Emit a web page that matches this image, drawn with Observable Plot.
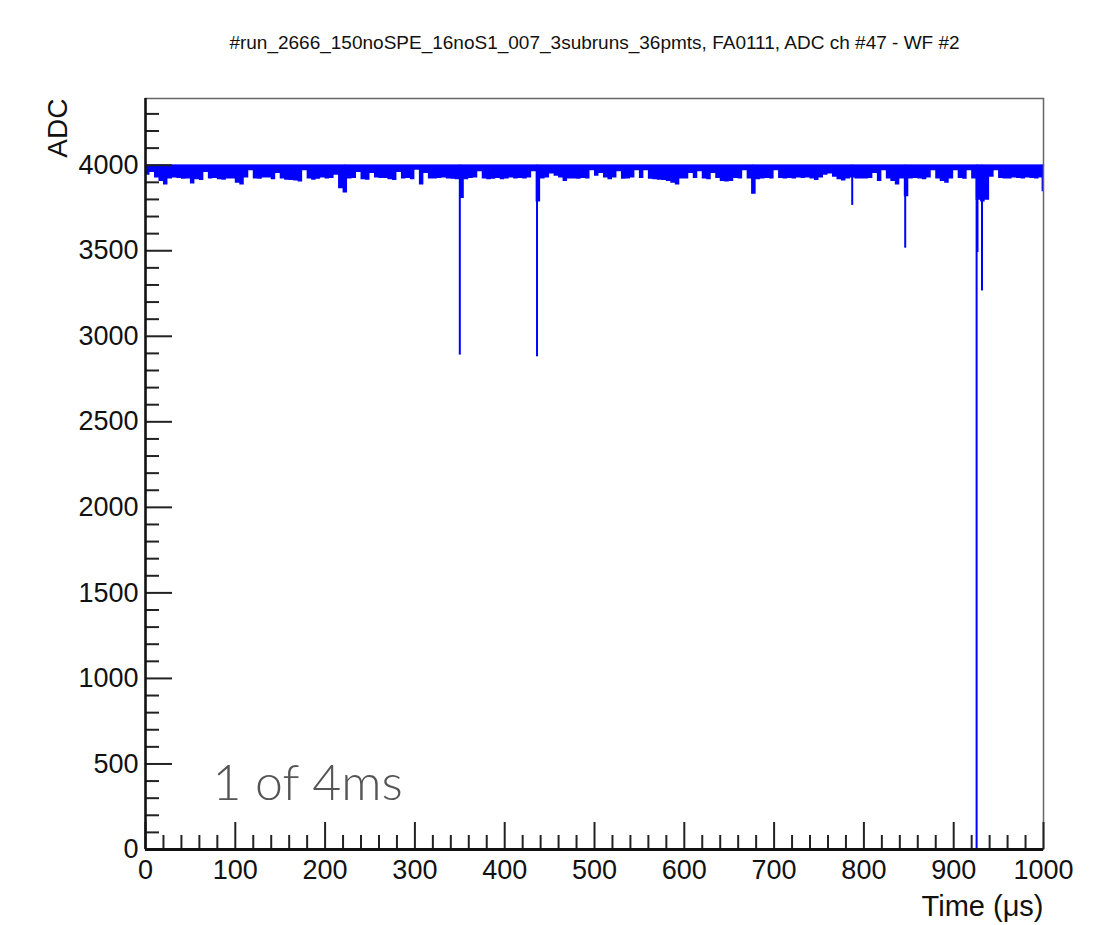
<!DOCTYPE html>
<html>
<head>
<meta charset="utf-8">
<script src="https://cdn.jsdelivr.net/npm/d3@7"></script>
<script src="https://cdn.jsdelivr.net/npm/@observablehq/plot@0.6"></script>
<style>
  html, body { margin: 0; padding: 0; background: #fff; }
  #chart svg { display: block; }
</style>
</head>
<body>
<div id="chart"></div>
<script>
const titleText = "#run_2666_150noSPE_16noS1_007_3subruns_36pmts, FA0111, ADC ch #47 - WF #2";
const xLabel = "Time (\u03bcs)";
const yLabel = "ADC";
const noteText = "1 of 4ms";

const xMajor = [0, 100, 200, 300, 400, 500, 600, 700, 800, 900, 1000];
const yMajor = [0, 500, 1000, 1500, 2000, 2500, 3000, 3500, 4000];
const xMinor = [20,40,60,80,120,140,160,180,220,240,260,280,320,340,360,380,420,440,460,480,520,540,560,580,620,640,660,680,720,740,760,780,820,840,860,880,920,940,960,980];
const yMinor = [100,200,300,400,600,700,800,900,1100,1200,1300,1400,1600,1700,1800,1900,2100,2200,2300,2400,2600,2700,2800,2900,3100,3200,3300,3400,3600,3700,3800,3900,4100,4200,4300];

// baseline band: upper level and lower envelope (µs, ADC)
const bandTop = 4000;
const bandTime = [
  0,5,10,15,20,25,30,35,40,45, 50,55,60,65,70,75,80,85,90,95,
  100,105,110,115,120,125,130,135,140,145, 150,155,160,165,170,175,180,185,190,195,
  200,205,210,215,220,225,230,235,240,245, 250,255,260,265,270,275,280,285,290,295,
  300,305,310,315,320,325,330,335,340,345, 350,355,360,365,370,375,380,385,390,395,
  400,405,410,415,420,425,430,435,440,445, 450,455,460,465,470,475,480,485,490,495,
  500,505,510,515,520,525,530,535,540,545, 550,555,560,565,570,575,580,585,590,595,
  600,605,610,615,620,625,630,635,640,645, 650,655,660,665,670,675,680,685,690,695,
  700,705,710,715,720,725,730,735,740,745, 750,755,760,765,770,775,780,785,790,795,
  800,805,810,815,820,825,830,835,840,845, 850,855,860,865,870,875,880,885,890,895,
  900,905,910,915,920,925,930,935,940,945, 950,955,960,965,970,975,980,985,990,995,
  1000
];
const bandLow = [
  3942,3958,3925,3905,3885,3920,3925,3922,3918,3920, 3890,3915,3910,3958,3920,3922,3915,3912,3920,3920,
  3895,3885,3925,3968,3920,3918,3925,3925,3915,3952, 3920,3912,3910,3908,3902,3968,3920,3912,3918,3925,
  3920,3922,3942,3862,3838,3920,3922,3958,3915,3912, 3952,3925,3922,3922,3915,3910,3958,3920,3922,3915,
  3970,3885,3952,3920,3920,3922,3925,3920,3918,3915, 3805,3915,3922,3925,3962,3920,3915,3918,3922,3915,
  3920,3925,3920,3922,3920,3925,3962,3785,3920,3925, 3948,3935,3925,3905,3920,3920,3918,3922,3920,3968,
  3935,3952,3925,3915,3925,3962,3918,3920,3925,3968, 3922,3968,3918,3915,3912,3910,3905,3895,3885,3920,
  3920,3952,3922,3962,3920,3915,3952,3922,3905,3902, 3905,3922,3920,3968,3920,3830,3915,3920,3922,3920,
  3968,3922,3920,3922,3920,3925,3922,3925,3920,3910, 3925,3942,3948,3930,3915,3908,3920,3925,3920,3920,
  3920,3922,3952,3905,3968,3920,3905,3885,3920,3815, 3920,3922,3920,3915,3925,3968,3920,3905,3895,3920,
  3968,3922,3918,3968,3920,3795,3785,3795,3930,3968, 3922,3920,3920,3925,3922,3920,3925,3922,3920,3925,
  3925
];

// narrow downward pulses (µs, minimum ADC)
const spikeTime = [222, 350, 436, 676, 787, 846, 925.5, 926.5, 931.5, 999];
const spikeMin  = [3840, 2890, 2880, 3833, 3765, 3515, 0, 3490, 3265, 3845];

const band = bandTime.map((t, i) => ({t, low: bandLow[i], top: bandTop}));
const spikes = spikeTime.map((t, i) => ({t, min: spikeMin[i], top: bandTop}));

const W = 1112, H = 925;
const mL = 145, mR = 69, mT = 98, mB = 76;
const fw = W - mL - mR, fh = H - mT - mB;
const font = "'Liberation Sans', Arial, Helvetica, sans-serif";
const blue = "#0000ff";

const chart = Plot.plot({
  width: W,
  height: H,
  marginLeft: mL,
  marginRight: mR,
  marginTop: mT,
  marginBottom: mB,
  style: {fontFamily: font, background: "#fff", overflow: "visible"},
  x: {domain: [0, 1000], axis: null},
  y: {domain: [0, 4390], axis: null},
  marks: [
    Plot.areaY(band, {x: "t", y1: "low", y2: "top", curve: "step-after", fill: blue}),
    Plot.lineY(band, {x: "t", y: "top", curve: "step-after", stroke: blue, strokeWidth: 1.5}),
    Plot.ruleX(spikes, {x: "t", y1: "min", y2: "top", stroke: blue, strokeWidth: 2}),
    // frame (top/right thin grey)
    Plot.frame({stroke: "#666", strokeWidth: 1.5}),
    // ticks
    Plot.ruleY(yMajor, {y: d => d, insetRight: fw - 27, stroke: "#222", strokeWidth: 2}),
    Plot.ruleY(yMinor, {y: d => d, insetRight: fw - 14, stroke: "#222", strokeWidth: 2}),
    Plot.ruleX(xMajor, {x: d => d, insetTop: fh - 27, stroke: "#222", strokeWidth: 2}),
    Plot.ruleX(xMinor, {x: d => d, insetTop: fh - 14, stroke: "#222", strokeWidth: 2}),
    // main axis lines
    Plot.ruleX([0], {stroke: "#111", strokeWidth: 2.5}),
    Plot.ruleY([0], {stroke: "#111", strokeWidth: 3}),
    // tick labels
    Plot.text(yMajor, {y: d => d, text: d => String(d), frameAnchor: "left", textAnchor: "end", dx: -7, fontSize: 27, fill: "#111"}),
    Plot.text(xMajor, {x: d => d, text: d => String(d), frameAnchor: "bottom", lineAnchor: "middle", dy: 21, fontSize: 27, fill: "#111"}),
    // axis titles
    Plot.text([yLabel], {text: d => d, frameAnchor: "top-left", rotate: -90, textAnchor: "end", lineAnchor: "middle", dx: -87, dy: 0, fontSize: 28, fill: "#111"}),
    Plot.text([xLabel], {text: d => d, frameAnchor: "bottom-right", textAnchor: "end", lineAnchor: "middle", dy: 57, fontSize: 29, fill: "#111"}),
    // title
    Plot.text([titleText], {text: d => d, frameAnchor: "top", lineAnchor: "middle", dy: -56, fontSize: 19, fill: "#111"}),
    // annotation
    Plot.text([noteText], {text: d => d, frameAnchor: "bottom-left", textAnchor: "start", lineAnchor: "middle", dx: 67, dy: -66, fontSize: 50, fontWeight: 300, fontFamily: "Lato, 'Open Sans', sans-serif", fill: "#555"})
  ]
});
document.getElementById("chart").appendChild(chart);
</script>
</body>
</html>
